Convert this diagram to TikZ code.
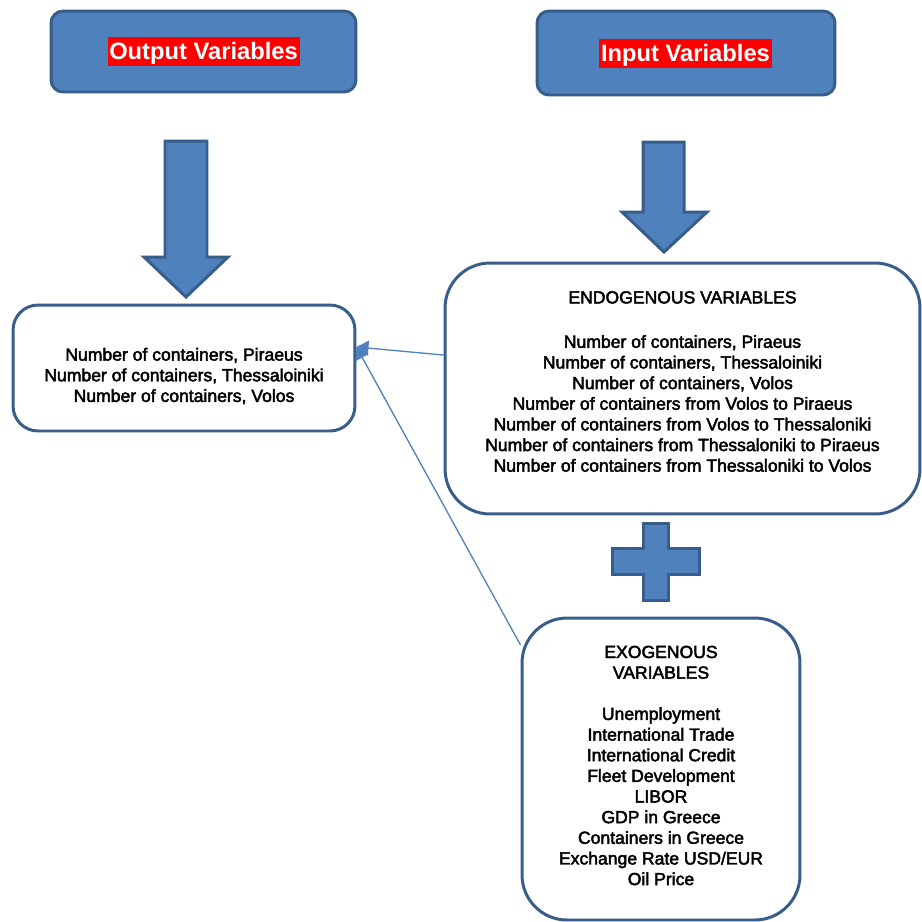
\documentclass[tikz,border=0pt]{standalone}
\usepackage{fontspec}
\setmainfont{Liberation Sans}
\newfontfamily\listfont[FakeBold=2.5]{Liberation Sans}
\usetikzlibrary{arrows.meta}
\definecolor{boxblue}{HTML}{4F81BD}
\definecolor{boxedge}{HTML}{385D8A}
\begin{document}
\begin{tikzpicture}
[
x=0.02cm, y=-0.02cm,
head/.style={
% The shape:
rectangle,
rounded corners=0.24cm,
% The border:
line width=1.7pt,
draw=boxedge,
% The filling:
fill=boxblue,
},
title/.style={
% The shape:
rectangle,
inner xsep=1pt, inner ysep=1pt,
text height=11.7pt, text depth=2.8pt,
% The text:
font=\fontsize{13.5}{15}\selectfont\bfseries,
text=white,
% The filling:
fill=red,
},
panel/.style={
% The shape:
rectangle,
% The border:
line width=1.7pt,
draw=boxedge,
% The filling:
fill=white,
},
list/.style={
% The text:
align=center,
font=\listfont\fontsize{10}{11.75}\selectfont,
},
bigarrow/.style={
% The border:
line width=1.7pt,
draw=boxedge,
line join=miter,
% The filling:
fill=boxblue,
},
link/.style={
-{Triangle[length=2.4mm,width=3mm]},
line width=0.75pt,
draw=boxblue,
}
]
    \useasboundingbox (0,0) rectangle (922,921);
    % heads
    \node[head, minimum width=6.1cm, minimum height=1.62cm] (outhead) at (203.5, 51.5) {};
    \node[title] (outtitle) at (outhead) {Output Variables};
    \node[head, minimum width=5.96cm, minimum height=1.68cm] (inhead) at (686, 53) {};
    \node[title] (intitle) at (685.5, 53.5) {Input Variables};
    % big arrows and plus
    \draw[bigarrow] (165,141) -- (207,141) -- (207,257) -- (228,257) -- (186,297) -- (144,257) -- (165,257) -- cycle;
    \draw[bigarrow] (643,142) -- (684,142) -- (684,212) -- (707,212) -- (664,252) -- (622,212) -- (643,212) -- cycle;
    \draw[bigarrow] (643,523) -- (668,523) -- (668,548) -- (699,548) -- (699,574) -- (668,574) -- (668,600)
        -- (643,600) -- (643,574) -- (612,574) -- (612,548) -- (643,548) -- cycle;
    % boxes
    \node[panel, rounded corners=0.5cm, minimum width=6.84cm, minimum height=2.52cm] (outbox) at (184, 368) {};
    \node[list] (outtext) at (184, 376)
        {Number of containers, Piraeus\\Number of containers, Thessaloiniki\\Number of containers, Volos};
    \node[panel, rounded corners=0.9cm, minimum width=9.5cm, minimum height=5.02cm] (endo) at (682.5, 388.5) {};
    \node[list] (endotext) at (682.5, 381.5)
        {ENDOGENOUS VARIABLES\\[13.5pt]
        Number of containers, Piraeus\\Number of containers, Thessaloiniki\\Number of containers, Volos\\
        Number of containers from Volos to Piraeus\\Number of containers from Volos to Thessaloniki\\
        Number of containers from Thessaloniki to Piraeus\\Number of containers from Thessaloniki to Volos};
    \node[panel, rounded corners=0.9cm, minimum width=5.56cm, minimum height=6.04cm] (exo) at (661, 769) {};
    \node[list] (exotext) at (661, 765.5)
        {EXOGENOUS\\VARIABLES\\[11.75pt]
        Unemployment\\International Trade\\International Credit\\Fleet Development\\LIBOR\\
        GDP in Greece\\Containers in Greece\\Exchange Rate USD/EUR\\Oil Price};
    % links
    \draw[link] ([yshift=0.67cm]endo.west) -- ([yshift=0.42cm]outbox.east);
    \draw[link] ([yshift=2.48cm]exo.west) -- ([yshift=0.42cm]outbox.east);
\end{tikzpicture}
\end{document}
